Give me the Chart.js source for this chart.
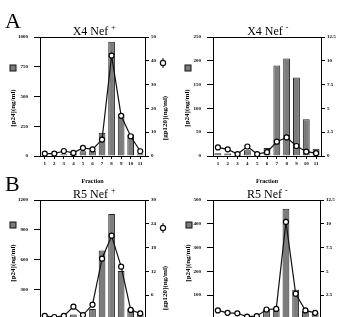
<!DOCTYPE html>
<html>
<head>
<meta charset="utf-8">
<script src="https://cdn.jsdelivr.net/npm/chart.js@4"></script>
<style>
  html, body { margin: 0; padding: 0; background: #fff; overflow: hidden; }
  body { width: 339px; height: 317px; position: relative; }
  canvas { position: absolute; }
</style>
</head>
<body>
<canvas id="aLeft" width="170" height="185" style="left:0;top:0"></canvas>
<canvas id="aRight" width="190" height="185" style="left:170px;top:0"></canvas>
<canvas id="bLeft" width="170" height="185" style="left:0;top:163px"></canvas>
<canvas id="bRight" width="190" height="185" style="left:170px;top:163px"></canvas>
<script>
// fractions on the x axis
const fractions = ['1', '2', '3', '4', '5', '6', '7', '8', '9', '10', '11'];

// X4 Nef+ : p24 (ng/ml, bars) and gp120 (ng/ml, line)
const x4PlusP24 = [10, 10, 15, 20, 40, 45, 195, 960, 350, 180, 15];
const x4PlusGp120 = [1.0, 1.0, 2.1, 1.3, 3.4, 2.8, 6.9, 42.2, 16.9, 8.3, 2.0];

// X4 Nef-
const x4MinusP24 = [6, 5, 2, 12, 2, 17, 190, 205, 165, 77, 15];
const x4MinusGp120 = [0.9, 0.7, 0.2, 1.0, 0.2, 0.4, 1.5, 1.95, 1.05, 0.45, 0.3];

// R5 Nef+
const r5PlusP24 = [5, 5, 10, 45, 20, 100, 690, 1060, 485, 100, 50];
const r5PlusGp120 = [0.8, 0.5, 0.8, 3.1, 1.0, 3.6, 15.2, 21.0, 13.2, 2.3, 1.4];

// R5 Nef-
const r5MinusP24 = [8, 8, 8, 8, 5, 40, 42, 463, 123, 33, 27];
const r5MinusGp120 = [0.9, 0.65, 0.6, 0.25, 0.3, 1.0, 1.06, 10.2, 2.65, 0.9, 0.65];

const SERIF = '"Liberation Serif", "Times New Roman", serif';
const PLOT_TOP = 37, PLOT_BOTTOM = 156;

// 패널 장식: 글자, 제목, 축 제목, 범례 아이콘
const decor = {
    id: 'decor',
    afterDraw(chart, args, o) {
        const c = chart.ctx;
        const a = chart.chartArea;
        c.save();
        c.strokeStyle = '#000';
        c.lineWidth = 1;
        c.beginPath();
        c.moveTo(a.left, a.top + 0.5);
        c.lineTo(a.right, a.top + 0.5);
        c.stroke();

        c.fillStyle = '#000';
        if (o.letter) {
            c.font = '22px ' + SERIF;
            c.textAlign = 'left';
            c.textBaseline = 'alphabetic';
            c.fillText(o.letter, 5, 28);
        }

        c.font = '12px ' + SERIF;
        c.textBaseline = 'alphabetic';
        const w = c.measureText(o.title).width;
        const tx = (a.left + a.right) / 2 - 2 - w / 2;
        c.textAlign = 'left';
        c.fillText(o.title, tx, 35);
        c.font = '8px ' + SERIF;
        c.fillText(o.sign, tx + w + 3, 30);

        // rotated axis titles
        c.font = 'bold 7px ' + SERIF;
        c.textAlign = 'center';
        c.textBaseline = 'middle';
        c.save();
        c.translate(o.leftTitle[0], o.leftTitle[1]);
        c.rotate(-Math.PI / 2);
        c.fillText('[p24](ng/ml)', 0, 0);
        c.restore();
        c.save();
        c.translate(o.rightTitle[0], o.rightTitle[1]);
        c.rotate(-Math.PI / 2);
        c.fillText('[gp120](ng/ml)', 0, 0);
        c.restore();

        // legend square for bars
        c.fillStyle = '#7c7c7c';
        c.fillRect(o.square[0] - 3, o.square[1] - 3, 6, 6);
        c.strokeStyle = '#111';
        c.strokeRect(o.square[0] - 3, o.square[1] - 3, 6, 6);

        // legend marker for line
        c.beginPath();
        c.moveTo(o.icon[0], o.icon[1] - 5);
        c.lineTo(o.icon[0], o.icon[1] + 5);
        c.stroke();
        c.beginPath();
        c.arc(o.icon[0], o.icon[1], 2.6, 0, Math.PI * 2);
        c.fillStyle = '#fff';
        c.fill();
        c.lineWidth = 1.2;
        c.stroke();
        c.restore();
    }
};

function tickFont() {
    return { family: SERIF, size: 5, weight: 'bold' };
}

function makePanel(id, p) {
    const el = document.getElementById(id);
    const W = el.width, H = el.height;
    new Chart(el, {
        type: 'bar',
        data: {
            labels: fractions,
            datasets: [
                {
                    type: 'line',
                    data: p.gp120,
                    yAxisID: 'y1',
                    order: 0,
                    borderColor: '#111',
                    borderWidth: 1.2,
                    pointRadius: 2.5,
                    pointBackgroundColor: '#fff',
                    pointBorderColor: '#000',
                    pointBorderWidth: 1.2,
                    tension: 0,
                    clip: false
                },
                {
                    type: 'bar',
                    data: p.p24,
                    yAxisID: 'y',
                    order: 1,
                    backgroundColor: '#7c7c7c',
                    borderColor: '#222',
                    borderWidth: 1,
                    barPercentage: 0.7,
                    categoryPercentage: 1
                }
            ]
        },
        options: {
            responsive: false,
            animation: false,
            layout: { padding: { top: PLOT_TOP, left: 0, right: 0, bottom: 0 } },
            plugins: {
                legend: { display: false },
                tooltip: { enabled: false },
                decor: p.decor
            },
            scales: {
                x: {
                    grid: { display: true, drawOnChartArea: false, offset: false, tickLength: 3, color: '#000' },
                    border: { color: '#000', width: 1 },
                    ticks: { color: '#000', font: tickFont(), padding: 2, maxRotation: 0, autoSkip: false },
                    title: { display: true, text: 'Fraction', color: '#000', font: { family: SERIF, size: 6, weight: 'bold' }, padding: { top: 0, bottom: 0 } },
                    afterFit: s => { s.height = H - PLOT_BOTTOM; }
                },
                y: {
                    position: 'left',
                    min: 0,
                    max: p.p24Max,
                    grid: { drawOnChartArea: false, tickLength: 6, color: '#000' },
                    border: { color: '#000', width: 1 },
                    ticks: { stepSize: p.p24Step, color: '#000', font: tickFont(), padding: 6, callback: v => String(v) },
                    afterFit: s => { s.width = p.plotLeft; }
                },
                y1: {
                    position: 'right',
                    min: 0,
                    max: p.gpMax,
                    grid: { drawOnChartArea: false, tickLength: 4, color: '#000' },
                    border: { color: '#000', width: 1 },
                    ticks: { stepSize: p.gpStep, color: '#000', font: tickFont(), padding: 2, callback: v => String(v) },
                    afterFit: s => { s.width = W - p.plotRight; }
                }
            }
        },
        plugins: [decor]
    });
}

makePanel('aLeft', {
    p24: x4PlusP24, gp120: x4PlusGp120,
    p24Max: 1000, p24Step: 250, gpMax: 50, gpStep: 10,
    plotLeft: 40, plotRight: 145,
    decor: { letter: 'A', title: 'X4 Nef', sign: '+', leftTitle: [13, 108], rightTitle: [165, 118], square: [13, 68], icon: [163, 63] }
});
makePanel('aRight', {
    p24: x4MinusP24, gp120: x4MinusGp120,
    p24Max: 250, p24Step: 50, gpMax: 12.5, gpStep: 2.5,
    plotLeft: 43, plotRight: 151,
    decor: { letter: '', title: 'X4 Nef', sign: '-', leftTitle: [17, 108], rightTitle: [178, 118], square: [18, 68], icon: [175, 63] }
});
makePanel('bLeft', {
    p24: r5PlusP24, gp120: r5PlusGp120,
    p24Max: 1200, p24Step: 300, gpMax: 30, gpStep: 6,
    plotLeft: 40, plotRight: 145,
    decor: { letter: 'B', title: 'R5 Nef', sign: '+', leftTitle: [13, 100], rightTitle: [165, 125], square: [13, 62], icon: [163, 65] }
});
makePanel('bRight', {
    p24: r5MinusP24, gp120: r5MinusGp120,
    p24Max: 500, p24Step: 100, gpMax: 12.5, gpStep: 2.5,
    plotLeft: 43, plotRight: 150,
    decor: { letter: '', title: 'R5 Nef', sign: '-', leftTitle: [18, 100], rightTitle: [178, 125], square: [19, 62], icon: [175, 65] }
});
</script>
</body>
</html>
